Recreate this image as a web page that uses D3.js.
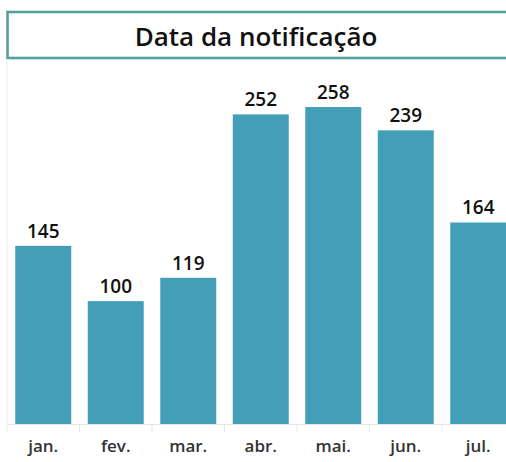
<!DOCTYPE html>
<html><head><meta charset="utf-8">
<script src="https://cdn.jsdelivr.net/npm/d3@7"></script>
<style>body{margin:0;background:#fff;overflow:hidden}svg{display:block}</style>
</head><body>
<svg id="c" width="506" height="462"></svg>
<script>
const title = "Data da notificação";
const months = ["jan.","fev.","mar.","abr.","mai.","jun.","jul."];
const counts = [145,100,119,252,258,239,164];

const svg = d3.select("#c");
const font = "'Open Sans', sans-serif";

// title box
svg.append("rect").attr("x",7.5).attr("y",12).attr("width",520).attr("height",46)
  .attr("fill","none").attr("stroke","#56a19a").attr("stroke-width",2.6);
svg.append("text").attr("x",256).attr("y",46).attr("text-anchor","middle")
  .attr("font-family",font).attr("font-weight",600).attr("font-size",26)
  .attr("fill","#111").text(title);

const x = d3.scaleBand().domain(months).range([7, 514.5]).paddingInner(0.228).paddingOuter(0.114);
const y = d3.scaleLinear().domain([0, 258]).range([424, 107]);

// left axis line
svg.append("line").attr("x1",7).attr("x2",7).attr("y1",62).attr("y2",432)
  .attr("stroke","#ececec").attr("stroke-width",1);
// baseline
svg.append("line").attr("x1",7).attr("x2",506).attr("y1",424.5).attr("y2",424.5)
  .attr("stroke","#e6e6e6").attr("stroke-width",1);
// band separators
svg.selectAll("line.sep").data(months.slice(1)).enter().append("line")
  .attr("x1",d=>x(d)-x.step()*0.114).attr("x2",d=>x(d)-x.step()*0.114)
  .attr("y1",424).attr("y2",432).attr("stroke","#e6e6e6");

svg.selectAll("rect.bar").data(counts).enter().append("rect")
  .attr("x",(d,i)=>x(months[i])).attr("width",x.bandwidth())
  .attr("y",d=>y(d)).attr("height",d=>y(0)-y(d)).attr("fill","#439eb8");

svg.selectAll("text.val").data(counts).enter().append("text")
  .attr("x",(d,i)=>x(months[i])+x.bandwidth()/2).attr("y",d=>y(d)-8)
  .attr("text-anchor","middle").attr("font-family",font).attr("font-weight",600)
  .attr("font-size",19).attr("fill","#111").text(d=>d);

svg.selectAll("text.cat").data(months).enter().append("text")
  .attr("x",d=>x(d)+x.bandwidth()/2).attr("y",452)
  .attr("text-anchor","middle").attr("font-family",font).attr("font-weight",600)
  .attr("font-size",17).attr("fill","#333").text(d=>d);
</script>
</body></html>
